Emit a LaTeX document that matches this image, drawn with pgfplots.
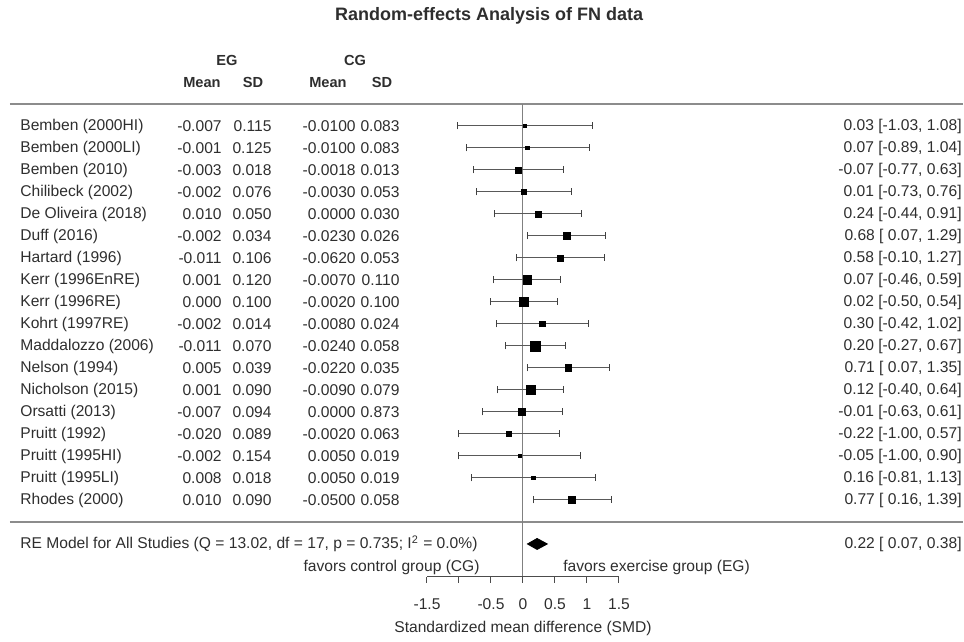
\documentclass[border=0pt]{standalone}
\usepackage{fontspec}
\setmainfont{Liberation Sans}
\usepackage{pgfplots}
\usepackage{pgfplotstable}
\pgfplotsset{compat=1.18}

\pgfplotstableread[col sep=semicolon]{
y;est;lo;hi;s;name;egm;egsd;cgm;cgsd;ci
18;0.03;-1.03;1.08;0.75;Bemben (2000HI);-0.007;0.115;-0.0100;0.083;0.03 [-1.03, 1.08]
17;0.07;-0.89;1.04;0.88;Bemben (2000LI);-0.001;0.125;-0.0100;0.083;0.07 [-0.89, 1.04]
16;-0.07;-0.77;0.63;1.46;Bemben (2010);-0.003;0.018;-0.0018;0.013;-0.07 [-0.77, 0.63]
15;0.01;-0.73;0.76;1.34;Chilibeck (2002);-0.002;0.076;-0.0030;0.053;0.01 [-0.73, 0.76]
14;0.24;-0.44;0.91;1.54;De Oliveira (2018);0.010;0.050;0.0000;0.030;0.24 [-0.44, 0.91]
13;0.68;0.07;1.29;1.78;Duff (2016);-0.002;0.034;-0.0230;0.026;0.68 [ 0.07, 1.29]
12;0.58;-0.10;1.27;1.51;Hartard (1996);-0.011;0.106;-0.0620;0.053;0.58 [-0.10, 1.27]
11;0.07;-0.46;0.59;2.17;Kerr (1996EnRE);0.001;0.120;-0.0070;0.110;0.07 [-0.46, 0.59]
10;0.02;-0.50;0.54;2.20;Kerr (1996RE);0.000;0.100;-0.0020;0.100;0.02 [-0.50, 0.54]
9;0.30;-0.42;1.02;1.40;Kohrt (1997RE);-0.002;0.014;-0.0080;0.024;0.30 [-0.42, 1.02]
8;0.20;-0.27;0.67;2.50;Maddalozzo (2006);-0.011;0.070;-0.0240;0.058;0.20 [-0.27, 0.67]
7;0.71;0.07;1.35;1.66;Nelson (1994);0.005;0.039;-0.0220;0.035;0.71 [ 0.07, 1.35]
6;0.12;-0.40;0.64;2.20;Nicholson (2015);0.001;0.090;-0.0090;0.079;0.12 [-0.40, 0.64]
5;-0.01;-0.63;0.61;1.74;Orsatti (2013);-0.007;0.094;0.0000;0.873;-0.01 [-0.63, 0.61]
4;-0.22;-1.00;0.57;1.24;Pruitt (1992);-0.020;0.089;-0.0020;0.063;-0.22 [-1.00, 0.57]
3;-0.05;-1.00;0.90;0.90;Pruitt (1995HI);-0.002;0.154;0.0050;0.019;-0.05 [-1.00, 0.90]
2;0.16;-0.81;1.13;0.87;Pruitt (1995LI);0.008;0.018;0.0050;0.019;0.16 [-0.81, 1.13]
1;0.77;0.16;1.39;1.76;Rhodes (2000);0.010;0.090;-0.0500;0.058;0.77 [ 0.16, 1.39]
}\studies

\definecolor{txt}{gray}{0.18}
\definecolor{rule}{gray}{0.55}

\pgfplotsset{
  txtcol/.style={draw=none, mark=none, point meta=explicit symbolic,
    nodes near coords,
    every node near coord/.append style={anchor=#1, inner sep=0pt, text=txt}},
}

\begin{document}
\begin{tikzpicture}[font=\fontsize{7.8}{9}\selectfont,
  hdr/.style={font=\fontsize{7.3}{9}\selectfont\bfseries, text=txt, anchor=base, inner sep=0pt}]
\begin{axis}[
  name=main,
  x=32pt, y=11pt,
  xmin=-8.172, xmax=6.891, ymin=-5.273, ymax=23.727,
  enlargelimits=false,
  axis line style={draw=none},
  xtick=\empty, ytick=\empty,
  clip=false,
]
% rules and reference line
\addplot[rule, line width=0.9pt] coordinates {(-8.016,19) (6.875,19)};
\addplot[rule, line width=0.9pt] coordinates {(-8.016,0) (6.875,0)};
\addplot[gray, line width=0.5pt] coordinates {(0,-2.5) (0,19)};

% confidence intervals
\addplot[draw=none, mark=none,
  error bars/.cd, x dir=both, x explicit,
  error bar style={black!65, line width=0.5pt},
  error mark options={black!75, rotate=90, mark size=1.75pt, line width=0.5pt}]
  table[x=est, y=y, x error plus expr=\thisrow{hi}-\thisrow{est},
        x error minus expr=\thisrow{est}-\thisrow{lo}] {\studies};

% study estimates, square size by weight
\addplot[only marks, mark=square*, black, scatter,
  point meta=explicit,
  scatter/use mapped color={draw=black, fill=black},
  visualization depends on={\thisrow{s} \as \psize},
  scatter/@pre marker code/.append style={/tikz/mark size=\psize pt}]
  table[x=est, y=y, meta=s] {\studies};

% summary diamond
\addplot[fill=black, draw=black] coordinates {(0.07,-1) (0.22,-0.75) (0.38,-1) (0.22,-1.25)} -- cycle;

% text columns
\addplot[txtcol=west] table[x expr=-7.86, y=y, meta=name] {\studies};
\addplot[txtcol=east] table[x expr=-4.703, y=y, meta=egm] {\studies};
\addplot[txtcol=east] table[x expr=-3.922, y=y, meta=egsd] {\studies};
\addplot[txtcol=east] table[x expr=-2.609, y=y, meta=cgm] {\studies};
\addplot[txtcol=east] table[x expr=-1.922, y=y, meta=cgsd] {\studies};
\addplot[txtcol=east] table[x expr=6.86, y=y, meta=ci] {\studies};

\node[font=\fontsize{9}{11}\selectfont\bfseries, text=txt] at (axis cs:-0.53,23) {Random-effects Analysis of FN data};
\node[hdr] at (axis cs:-4.625,20.76) {EG};
\node[hdr] at (axis cs:-2.625,20.76) {CG};
\node[hdr] at (axis cs:-5.016,19.76) {Mean};
\node[hdr] at (axis cs:-4.219,19.76) {SD};
\node[hdr] at (axis cs:-3.047,19.76) {Mean};
\node[hdr] at (axis cs:-2.203,19.76) {SD};

\node[anchor=west, inner sep=0pt, text=txt] at (axis cs:-7.86,-1) {RE Model for All Studies (Q = 13.02, df = 17, p = 0.735; I\textsuperscript{2} = 0.0\%)};
\node[anchor=east, inner sep=0pt, text=txt] at (axis cs:6.86,-1) {0.22 [ 0.07, 0.38]};
\node[anchor=east, inner sep=0pt, text=txt] at (axis cs:-0.672,-2.09) {favors control group (CG)};
\node[anchor=west, inner sep=0pt, text=txt] at (axis cs:0.625,-2.09) {favors exercise group (EG)};

\coordinate (axl) at (axis cs:-1.5,-2.5);
\end{axis}

\begin{axis}[
  at={(axl)}, anchor=south west,
  x=32pt, y=1pt,
  xmin=-1.5, xmax=1.5, ymin=0, ymax=1,
  axis x line*=bottom,
  hide y axis,
  axis line style={black!70, line width=0.5pt},
  xtick={-1.5,-1,-0.5,0,0.5,1,1.5},
  xticklabels={-1.5,,-0.5,0,0.5,1,1.5},
  tick align=outside,
  major tick length=3pt,
  tick style={black!70, line width=0.5pt},
  xticklabel style={yshift=-4.5pt, text=txt},
  xlabel={Standardized mean difference (SMD)},
  xlabel style={at={(axis description cs:0.5,0)}, anchor=center, yshift=-25.5pt, text=txt},
]
\end{axis}
\end{tikzpicture}
\end{document}
